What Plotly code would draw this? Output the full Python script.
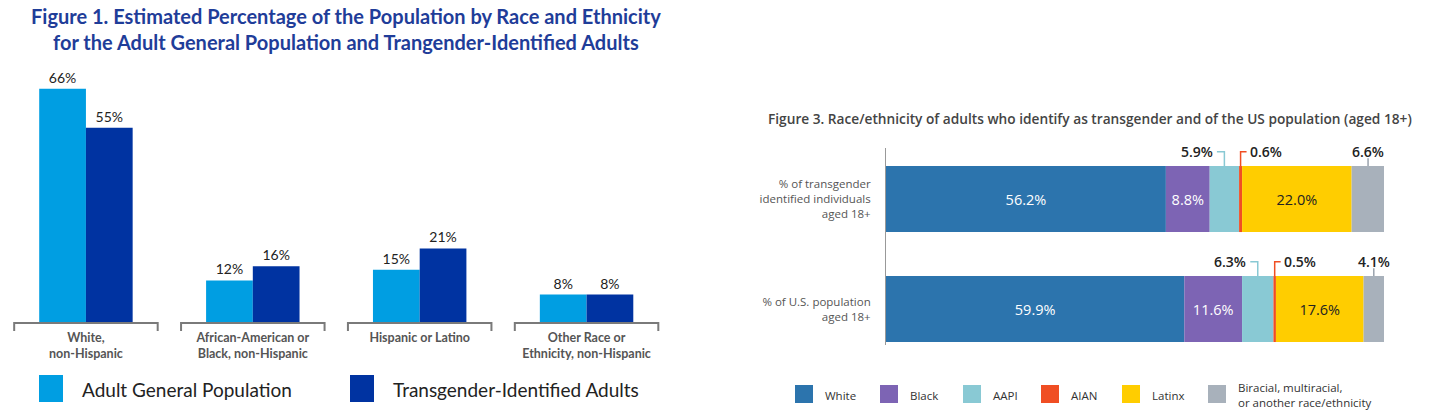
import plotly.graph_objects as go

W, H = 1456, 414

# --- figure 1 data
groups = ["White, non-Hispanic", "African-American or Black, non-Hispanic",
          "Hispanic or Latino", "Other Race or Ethnicity, non-Hispanic"]
group_ticks = ["White,<br>non-Hispanic", "African-American or<br>Black, non-Hispanic",
               "Hispanic or Latino", "Other Race or<br>Ethnicity, non-Hispanic"]
general_pop = [66, 12, 15, 8]
trans_adults = [55, 16, 21, 8]

# --- figure 3 data
rows = ["trans", "us"]
row_ticks = ["% of transgender<br>identified individuals<br>aged 18+",
             "% of U.S. population<br>aged 18+"]
races = ["White", "Black", "AAPI", "AIAN", "Latinx", "Other"]
race_legend = ["White", "Black", "AAPI", "AIAN", "Latinx",
               "Biracial, multiracial,<br>or another race/ethnicity"]
trans_share = [56.2, 8.8, 5.9, 0.6, 22.0, 6.6]
us_share = [59.9, 11.6, 6.3, 0.5, 17.6, 4.1]
inside_label = [True, True, False, False, True, False]

race_colors = ["#2c74ad", "#7d64b4", "#89c9d4", "#f04e23", "#ffcd00", "#a8b1bb"]
light_blue, dark_blue = "#009ee2", "#0033a1"


def px(x):
    return x / W


def py(y):
    return (H - y) / H


fig = go.Figure()

# figure 1 bars
for vals, color, off, name in [(general_pop, light_blue, -0.28, "Adult General Population"),
                               (trans_adults, dark_blue, 0.0, "Transgender-Identified Adults")]:
    fig.add_trace(go.Bar(
        x=groups, y=vals, name=name,
        marker=dict(color=color, line=dict(width=0)),
        width=0.28, offset=off,
        text=[f"{v}%" for v in vals], textposition="outside",
        textfont=dict(family="Lato", size=14, color="#222"),
        cliponaxis=False,
        xaxis="x", yaxis="y", showlegend=False,
    ))

# figure 3 stacked bars (base = running total)
shares = [trans_share, us_share]
for i, race in enumerate(races):
    vals = [s[i] for s in shares]
    bases = [sum(s[:i]) for s in shares]
    txt = [f"{v:.1f}%" if inside_label[i] else "" for v in vals]
    fig.add_trace(go.Bar(
        y=rows, x=vals, base=bases, orientation="h", name=race,
        marker=dict(color=race_colors[i], line=dict(width=0)),
        width=0.6, offset=-0.3,
        text=txt, textposition="inside", insidetextanchor="middle",
        textfont=dict(family="Open Sans", size=14.5,
                      color="#222" if race == "Latinx" else "white"),
        constraintext="none",
        xaxis="x2", yaxis="y2", showlegend=False,
    ))

shapes = []
annotations = []

# brackets under each group
br_top, br_bot = py(323), py(331)
for k in range(len(groups)):
    a, b = k - 0.43, k + 0.43
    shapes.append(dict(
        type="path", xref="x", yref="paper",
        path=f"M {a},{br_bot} L {a},{br_top} L {b},{br_top} L {b},{br_bot}",
        line=dict(color="#7a7a7a", width=2),
    ))

# callouts for small segments
lbl_font = dict(family="Open Sans", size=14, color="#222", weight=600)
for r, s in enumerate(shares):
    top = r - 0.3
    ly = r - 0.43
    # AAPI
    c = sum(s[:2]) + s[2] / 2
    shapes.append(dict(type="path", xref="x2", yref="y2",
                       path=f"M {c},{top} L {c},{ly} L {c - 1.5},{ly}",
                       line=dict(color=race_colors[2], width=1.5)))
    annotations.append(dict(x=c - 1.9, y=ly, xref="x2", yref="y2", text=f"{s[2]:.1f}%",
                            showarrow=False, xanchor="right", yanchor="middle", font=lbl_font))
    # AIAN
    c = sum(s[:3]) + s[3] / 2
    shapes.append(dict(type="path", xref="x2", yref="y2",
                       path=f"M {c},{top} L {c},{ly} L {c + 1.2},{ly}",
                       line=dict(color=race_colors[3], width=1.5)))
    annotations.append(dict(x=c + 1.5, y=ly, xref="x2", yref="y2", text=f"{s[3]:.1f}%",
                            showarrow=False, xanchor="left", yanchor="middle", font=lbl_font))
    # other
    c = sum(s[:5]) + s[5] / 2
    shapes.append(dict(type="line", xref="x2", yref="y2",
                       x0=c, x1=c, y0=top, y1=r - 0.37,
                       line=dict(color="#9aa3ad", width=1.5)))
    annotations.append(dict(x=c, y=ly, xref="x2", yref="y2", text=f"{s[5]:.1f}%",
                            showarrow=False, xanchor="center", yanchor="middle", font=lbl_font))

# titles
annotations.append(dict(
    x=px(346), y=py(29), xref="paper", yref="paper", showarrow=False,
    text="Figure 1. Estimated Percentage of the Population by Race and Ethnicity<br>"
         "for the Adult General Population and Trangender-Identified Adults",
    font=dict(family="Lato", size=20, color="#1f3d99", weight=700),
    xanchor="center", yanchor="middle", align="center",
))
annotations.append(dict(
    x=px(1090), y=py(118), xref="paper", yref="paper", showarrow=False,
    text="Figure 3. Race/ethnicity of adults who identify as transgender and of the US population (aged 18+)",
    font=dict(family="Open Sans", size=13.7, color="#444", weight=600),
    xanchor="center", yanchor="middle",
))

# legend of figure 1
for x0, color, label in [(39, light_blue, "Adult General Population"),
                         (350, dark_blue, "Transgender-Identified Adults")]:
    shapes.append(dict(type="rect", xref="paper", yref="paper",
                       x0=px(x0), x1=px(x0 + 24), y0=py(402), y1=py(375),
                       fillcolor=color, line=dict(width=0)))
    annotations.append(dict(x=px(x0 + 41), y=py(389), xref="paper", yref="paper",
                            text=label, showarrow=False, xanchor="left", yanchor="middle",
                            font=dict(family="Lato", size=19, color="#222")))

# legend of figure 3
leg_x = [795, 880, 963, 1041, 1122, 1208]
for x0, color, label in zip(leg_x, race_colors, race_legend):
    shapes.append(dict(type="rect", xref="paper", yref="paper",
                       x0=px(x0), x1=px(x0 + 18), y0=py(403), y1=py(385),
                       fillcolor=color, line=dict(width=0)))
    annotations.append(dict(x=px(x0 + 28), y=py(395), xref="paper", yref="paper",
                            text=label, showarrow=False, xanchor="left", yanchor="middle",
                            align="left",
                            font=dict(family="Open Sans", size=11.5, color="#333")))

fig.update_layout(
    width=W, height=H,
    margin=dict(l=0, r=0, t=0, b=0),
    paper_bgcolor="white", plot_bgcolor="white",
    barmode="overlay",
    showlegend=False,
    shapes=shapes, annotations=annotations,
    xaxis=dict(domain=[px(2.5), px(670)], range=[-0.5, 3.5], type="category",
               tickvals=groups, ticktext=group_ticks,
               showgrid=False, zeroline=False, showline=False, ticks="",
               ticklabelstandoff=5,
               tickfont=dict(family="Lato", size=12.5, color="#555", weight=700),
               anchor="y"),
    yaxis=dict(domain=[py(323), py(74.5)], range=[0, 70], visible=False, anchor="x"),
    xaxis2=dict(domain=[px(886), px(1384)], range=[0, 100], visible=False, anchor="y2"),
    yaxis2=dict(domain=[py(345), py(148)], range=[1.327, -0.464], type="category",
                tickvals=rows, ticktext=row_ticks,
                showgrid=False, zeroline=False, showline=True,
                linecolor="#999", linewidth=1, ticks="",
                ticklabelstandoff=12,
                tickfont=dict(family="Open Sans", size=11.5, color="#555"),
                anchor="x2"),
)

# page has an 8px body margin by default; drop it so the figure fills the window
fig.write_html("out.html", config={"displayModeBar": False},
               post_script="document.body.style.margin='0px';")
